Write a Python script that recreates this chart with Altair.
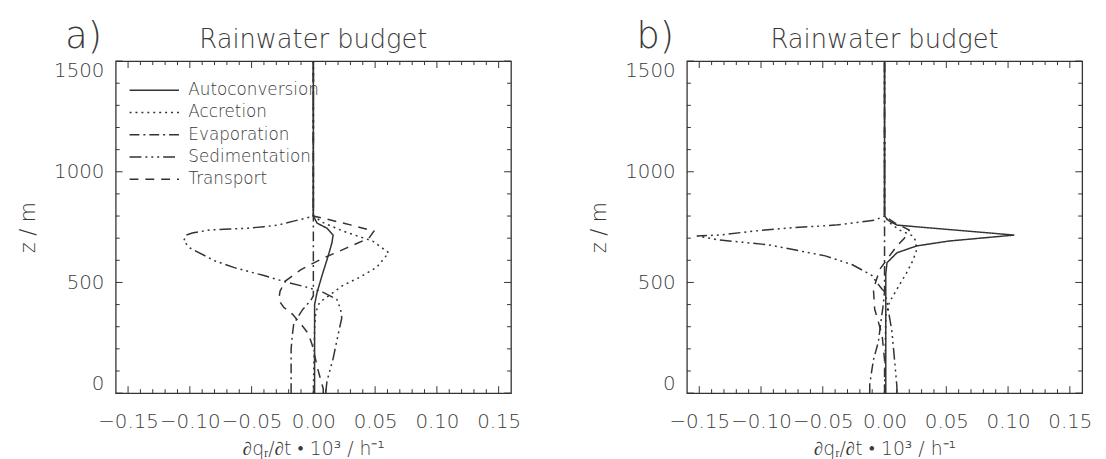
import altair as alt
import pandas as pd

FONT = "DejaVu Sans"
INK = "#333333"
TXT = "#3a3a3a"

SERIES = ["Autoconversion", "Accretion", "Evaporation", "Sedimentation", "Transport"]
DASHES = [[1, 0], [2, 4], [10, 4, 2, 4], [12, 4, 2, 4, 2, 4, 2, 4], [9, 7]]

# ---- panel a) ----
a_auto_z = [0, 200, 400, 455, 531, 620, 678, 714, 745, 768, 790, 800, 1500]
a_auto_x = [0.001, 0.001, 0.001, 0.003, 0.007, 0.012, 0.015, 0.016, 0.011, 0.003, 0.001, 0.0, 0.0]
a_accr_z = [0, 300, 366, 410, 442, 487, 522, 567, 634, 687, 732, 770, 800, 1500]
a_accr_x = [0.0, 0.001, 0.002, 0.005, 0.013, 0.024, 0.037, 0.051, 0.061, 0.048, 0.024, 0.008, 0.0, 0.0]
a_evap_z = [0, 100, 200, 263, 308, 340, 375, 420, 440, 800, 1500]
a_evap_x = [-0.018, -0.018, -0.018, -0.017, -0.016, -0.013, -0.009, -0.002, 0.0, 0.0, 0.0]
a_sedi_z = [0, 54, 156, 263, 340, 380, 424, 455, 478, 500, 531, 567, 598, 656, 687, 714, 723,
            737, 741, 745, 752, 759, 777, 799, 1500]
a_sedi_x = [0.010, 0.011, 0.016, 0.020, 0.023, 0.022, 0.019, 0.008, -0.005, -0.021, -0.040, -0.064,
            -0.080, -0.100, -0.105, -0.103, -0.098, -0.084, -0.068, -0.053, -0.040, -0.029, -0.016, 0.0, 0.0]
a_tran_z = [0, 20, 100, 219, 268, 312, 357, 388, 420, 460, 505, 558, 610, 656, 700, 732, 760, 790, 800, 1500]
a_tran_x = [0.008, 0.008, 0.004, -0.001, -0.004, -0.010, -0.017, -0.024, -0.028, -0.027, -0.023, -0.010,
            0.008, 0.027, 0.045, 0.049, 0.030, 0.008, 0.0, 0.0]

# ---- panel b) ----
b_auto_z = [0, 400, 540, 589, 634, 665, 687, 714, 759, 780, 800, 1500]
b_auto_x = [0.001, 0.001, 0.001, 0.002, 0.010, 0.026, 0.052, 0.105, 0.010, 0.003, 0.0, 0.0]
b_accr_z = [0, 350, 411, 469, 545, 600, 647, 690, 710, 737, 770, 800, 1500]
b_accr_x = [0.0, 0.001, 0.004, 0.010, 0.018, 0.023, 0.026, 0.025, 0.023, 0.012, 0.004, 0.0, 0.0]
b_evap_z = [0, 40, 150, 232, 320, 400, 460, 800, 1500]
b_evap_x = [-0.012, -0.012, -0.009, -0.005, -0.003, -0.001, 0.0, 0.0, 0.0]
b_sedi_z = [0, 30, 156, 277, 411, 460, 469, 513, 531, 580, 620, 670, 692, 710, 714, 732, 745, 759, 781, 800, 1500]
b_sedi_x = [0.010, 0.010, 0.008, 0.006, 0.002, 0.0, -0.002, -0.008, -0.010, -0.026, -0.048, -0.094,
            -0.134, -0.152, -0.134, -0.106, -0.080, -0.040, -0.008, 0.0, 0.0]
b_tran_z = [0, 150, 263, 380, 469, 558, 620, 665, 700, 737, 770, 800, 1500]
b_tran_x = [0.0, 0.0, -0.002, -0.008, -0.009, -0.004, 0.004, 0.010, 0.016, 0.020, 0.008, 0.0, 0.0]

# ---- axes ----
X_MAJOR = [-0.15, -0.10, -0.05, 0.0, 0.05, 0.10, 0.15]
X_MINOR = [-0.14, -0.13, -0.12, -0.11, -0.09, -0.08, -0.07, -0.06, -0.04, -0.03, -0.02, -0.01,
           0.01, 0.02, 0.03, 0.04, 0.06, 0.07, 0.08, 0.09, 0.11, 0.12, 0.13, 0.14]
Y_MAJOR = [0, 500, 1000, 1500]
Y_MINOR = [100, 200, 300, 400, 600, 700, 800, 900, 1100, 1200, 1300, 1400]
X_DOMAIN = [-0.16, 0.16]
Y_DOMAIN = [0, 1500]
XTITLE = "∂qᵣ/∂t • 10³ / h⁻¹"
YTITLE = "z / m"
PANEL_TITLE = "Rainwater budget"

W, H = 400, 336
MAJ, MIN = 7, 4


def frame(panel):
    rows = []
    for name, (zs, xs) in zip(SERIES, panel):
        for i, (z, x) in enumerate(zip(zs, xs)):
            rows.append({"series": name, "x": x, "z": z, "i": i})
    return pd.DataFrame(rows)


df_a = frame([(a_auto_z, a_auto_x), (a_accr_z, a_accr_x), (a_evap_z, a_evap_x),
              (a_sedi_z, a_sedi_x), (a_tran_z, a_tran_x)])
df_b = frame([(b_auto_z, b_auto_x), (b_accr_z, b_accr_x), (b_evap_z, b_evap_x),
              (b_sedi_z, b_sedi_x), (b_tran_z, b_tran_x)])

xscale = alt.Scale(domain=X_DOMAIN, nice=False, zero=False)
yscale = alt.Scale(domain=Y_DOMAIN, nice=False, zero=False)
xaxis = alt.Axis(values=X_MAJOR, format=".2f", title=XTITLE, labelOverlap=False,
                 labelPadding=19, titlePadding=8)
yaxis = alt.Axis(values=Y_MAJOR, format="d", title=YTITLE, labelPadding=12, titlePadding=15,
                 labelFlush=True, titleFontSize=21)


def ticks(values, length, side):
    d = pd.DataFrame({"v": values})
    c = alt.Chart(d).mark_rule(color=INK, strokeWidth=1)
    if side == "bottom":
        return c.encode(x=alt.X("v:Q", scale=xscale, axis=xaxis), y=alt.value(H), y2=alt.value(H - length))
    if side == "top":
        return c.encode(x=alt.X("v:Q", scale=xscale, axis=xaxis), y=alt.value(0), y2=alt.value(length))
    if side == "left":
        return c.encode(y=alt.Y("v:Q", scale=yscale, axis=yaxis), x=alt.value(0), x2=alt.value(length))
    return c.encode(y=alt.Y("v:Q", scale=yscale, axis=yaxis), x=alt.value(W), x2=alt.value(W - length))


def panel(df, letter, show_legend):
    if show_legend:
        leg = alt.Legend(orient="none", legendX=50.5, legendY=21, title=None,
                         symbolType="M-9,0L1,0", symbolSize=100, symbolStrokeWidth=1.5,
                         symbolStrokeColor=INK, symbolFillColor="transparent",
                         labelFont=FONT, labelFontSize=17, labelColor=TXT, labelFontWeight=300,
                         labelOffset=6, rowPadding=4.5, padding=0)
    else:
        leg = None
    lines = alt.Chart(df).mark_line(color=INK, strokeWidth=1.5).encode(
        x=alt.X("x:Q", scale=xscale, axis=xaxis),
        y=alt.Y("z:Q", scale=yscale, axis=yaxis),
        strokeDash=alt.StrokeDash("series:N", scale=alt.Scale(domain=SERIES, range=DASHES), legend=leg),
        order=alt.Order("i:Q"),
    )
    one = alt.Data(values=[{"k": 1}])
    lab = alt.Chart(one).mark_text(text=letter, font=FONT, fontSize=37, fontWeight=300, color=TXT,
                                   align="left", baseline="alphabetic").encode(
        x=alt.value(-51), y=alt.value(-13))
    ttl = alt.Chart(one).mark_text(text=PANEL_TITLE, font=FONT, fontSize=26, fontWeight=300, color=TXT,
                                   align="center", baseline="alphabetic").encode(
        x=alt.value(W / 2), y=alt.value(-13))
    layers = [lines,
              ticks(X_MAJOR, MAJ, "bottom"), ticks(X_MINOR, MIN, "bottom"),
              ticks(X_MAJOR, MAJ, "top"), ticks(X_MINOR, MIN, "top"),
              ticks(Y_MAJOR, MAJ, "left"), ticks(Y_MINOR, MIN, "left"),
              ticks(Y_MAJOR, MAJ, "right"), ticks(Y_MINOR, MIN, "right"),
              lab, ttl]
    return alt.layer(*layers).properties(width=W, height=H)


chart = alt.hconcat(panel(df_a, "a)", True), panel(df_b, "b)", False), spacing=67).resolve_scale(
    strokeDash="independent").resolve_legend(strokeDash="independent").configure(
    padding={"left": 9, "top": 7, "right": 5, "bottom": 2}, background="white"
).configure_view(stroke=INK, strokeWidth=1.3).configure_axis(
    domain=False, grid=False, ticks=False, tickSize=0,
    labelFont=FONT, labelFontSize=20, labelColor=TXT, labelFontWeight=300,
    titleFont=FONT, titleFontSize=19, titleColor=TXT, titleFontWeight=300,
)

chart.save("out.html", embed_options={"renderer": "svg", "actions": False})
